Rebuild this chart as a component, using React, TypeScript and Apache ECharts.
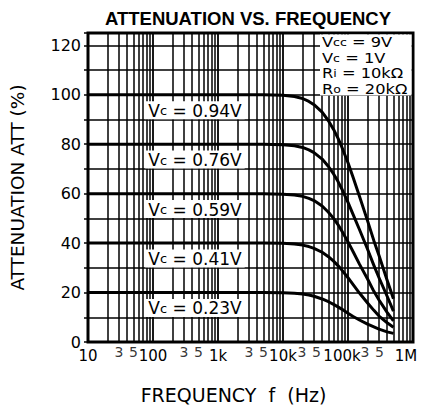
import React, { useEffect, useRef } from "react";
import * as echarts from "echarts";

// Frequencies (Hz) at which the curves were read
const freqs = [10, 5000, 10000, 15000, 20000, 25000, 30000, 40000, 50000, 60000, 70000, 80000, 100000, 120000, 150000, 200000, 250000, 300000, 400000, 500000];
// Attenuation (%) for each control voltage
const att094 = [100, 100, 99.8, 99.3, 98.5, 97.3, 96, 93, 89.5, 86, 82.5, 79, 72.5, 66.5, 59, 49, 41, 35, 25, 17.5];
const att076 = [80, 80, 79.8, 79.4, 78.7, 77.7, 76.6, 74, 71, 68, 65, 62, 56.5, 51.5, 45.5, 37.5, 31, 26, 18.5, 12.5];
const att059 = [60, 60, 59.8, 59.5, 58.9, 58.1, 57.2, 55, 52.5, 50, 47.5, 45, 40.5, 36.5, 31.5, 25.5, 20.5, 17, 12, 8.5];
const att041 = [40, 40, 39.9, 39.6, 39.2, 38.6, 37.9, 36.3, 34.5, 32.7, 30.9, 29.2, 26, 23.2, 19.8, 15.8, 12.8, 10.5, 7.8, 6];
const att023 = [20, 20, 19.9, 19.7, 19.4, 19.0, 18.5, 17.4, 16.3, 15.2, 14.2, 13.3, 11.6, 10.3, 8.9, 7.2, 6.1, 5.2, 4.1, 3.5];
const curveVc = ["0.94", "0.76", "0.59", "0.41", "0.23"];
const curves = [att094, att076, att059, att041, att023];

// Conditions annotation
const conditions = [
  ["V", "cc", " = 9V"],
  ["V", "c", " = 1V"],
  ["R", "i", " = 10kΩ"],
  ["R", "o", " = 20kΩ"],
];

// Axis tick labels
const decadeValues = [10, 100, 1000, 10000, 100000, 1000000];
const decadeLabels = ["10", "100", "1k", "10k", "100k", "1M"];
const subLabelFreqs = [30, 50, 300, 500, 3000, 5000, 30000, 50000, 300000, 500000];
const subLabelTexts = ["3", "5", "3", "5", "3", "5", "3", "5", "3", "5"];
const minorMultipliers = [2, 3, 4, 5, 6, 7, 8, 9];
const gridDecades = [10, 100, 1000, 10000, 100000];

// label nudges (style only, px)
const subLabelShift = [0, 0, 0, 0, 0, 0, -12, -12, -14, -14];
const decadeLabelShift = [0, 0, 0, 0, -6, -7];

const FONT = "DejaVu Sans";

export default function App() {
  const ref = useRef<HTMLDivElement>(null);
  useEffect(() => {
    document.body.style.margin = "0";
    const chart = echarts.init(ref.current!, null, { renderer: "svg" });
    const minorLines: number[] = [];
    gridDecades.forEach((d) => minorMultipliers.forEach((m) => minorLines.push(d * m)));

    const curveSeries = curves.map((vals, i) => ({
      type: "line",
      name: "Vc = " + curveVc[i] + "V",
      data: freqs.map((f, j) => [f, vals[j]]),
      smooth: false,
      symbol: "none",
      lineStyle: { color: "#000", width: 3, join: "round" },
      z: 5,
      markPoint: {
        symbol: "rect",
        symbolSize: 0,
        silent: true,
        data: [{ coord: [443, vals[0] - 6.2] }],
        label: {
          show: true,
          position: "inside",
          formatter: "{v|V}{s|c}{v| = " + curveVc[i] + "V}",
          backgroundColor: "#fff",
          padding: [1, 3, 0, 3],
          rich: {
            v: { fontFamily: FONT, fontSize: 17, color: "#000" },
            s: { fontFamily: FONT, fontSize: 13, color: "#000" },
          },
        },
      },
    }));

    const condText = conditions
      .map((c) => "{m|" + c[0] + "}{s|" + c[1] + "}{m|" + c[2] + "}")
      .join("\n");

    const decadeRich: Record<string, any> = {};
    decadeLabels.forEach((_, k) => {
      const s = decadeLabelShift[k];
      decadeRich["d" + k] = {
        fontFamily: FONT,
        fontSize: 15,
        color: "#000",
        padding: [0, s < 0 ? -2 * s : 0, 0, s > 0 ? 2 * s : 0],
      };
    });

    chart.setOption({
      animation: false,
      title: {
        text: "ATTENUATION VS. FREQUENCY",
        left: 243,
        textAlign: "center",
        top: 4,
        textStyle: { fontFamily: "Liberation Sans", fontWeight: "bold", fontSize: 18.5, color: "#000" },
      },
      grid: {
        left: 85,
        right: 17,
        top: 33,
        bottom: 70,
        show: true,
        borderColor: "#000",
        borderWidth: 3,
      },
      xAxis: {
        type: "log",
        logBase: 10,
        min: 10,
        max: 1000000,
        name: "FREQUENCY  f  (Hz)",
        nameLocation: "middle",
        nameGap: 43,
        nameTextStyle: { fontFamily: FONT, fontSize: 19, color: "#000", padding: [0, 34, 0, 0] },
        axisLine: { show: false },
        axisTick: { show: false },
        splitLine: { show: true, lineStyle: { color: "#000", width: 1.8 } },
        axisLabel: {
          margin: 6,
          fontFamily: FONT,
          fontSize: 15,
          color: "#000",
          rich: decadeRich,
          formatter: (v: number) => {
            const k = decadeValues.findIndex((d) => Math.abs(d - v) / d < 1e-6);
            return k >= 0 ? "{d" + k + "|" + decadeLabels[k] + "}" : "";
          },
        },
      },
      yAxis: {
        type: "value",
        min: 0,
        max: 125,
        interval: 10,
        name: "ATTENUATION ATT (%)",
        nameLocation: "middle",
        nameGap: 61,
        nameTextStyle: { fontFamily: FONT, fontSize: 18.5, color: "#000" },
        axisLine: { show: false },
        axisTick: { show: true, length: 4, lineStyle: { color: "#000", width: 1.5 } },
        splitLine: { show: true, lineStyle: { color: "#000", width: 1.5 } },
        axisLabel: {
          margin: 7,
          fontFamily: FONT,
          fontSize: 16,
          color: "#000",
          formatter: (v: number) => (v % 20 === 0 ? String(v) : ""),
        },
      },
      series: [
        {
          type: "line",
          data: [],
          silent: true,
          z: 1,
          markLine: {
            silent: true,
            symbol: ["none", "none"],
            label: { show: false },
            lineStyle: { color: "#000", width: 1.5, type: "solid" },
            data: minorLines.map((v) => ({ xAxis: v })),
          },
        },
        {
          type: "scatter",
          silent: true,
          symbolSize: 0,
          itemStyle: { color: "rgba(0,0,0,0)" },
          data: subLabelFreqs.map((f, i) => ({
            value: [f, 0],
            label: { formatter: subLabelTexts[i], offset: [subLabelShift[i], 0] },
          })),
          label: {
            show: true,
            position: "bottom",
            distance: 3,
            fontFamily: FONT,
            fontSize: 14,
            color: "#000",
          },
          z: 2,
        },
        ...curveSeries,
      ],
      graphic: [
        {
          type: "rect",
          shape: { x: 320, y: 34.5, width: 91.5, height: 61 },
          style: { fill: "#fff" },
          z: 10,
        },
        {
          type: "text",
          x: 322,
          y: 35,
          scaleX: 1.25,
          scaleY: 1.03,
          z: 11,
          style: {
            text: condText,
            verticalAlign: "top",
            rich: {
              m: { fontFamily: FONT, fontSize: 13, lineHeight: 15, fill: "#000" },
              s: { fontFamily: FONT, fontSize: 10, lineHeight: 15, fill: "#000" },
            },
          },
        },
      ],
    });
    return () => chart.dispose();
  }, []);
  return <div ref={ref} style={{ width: 430, height: 412 }} />;
}
